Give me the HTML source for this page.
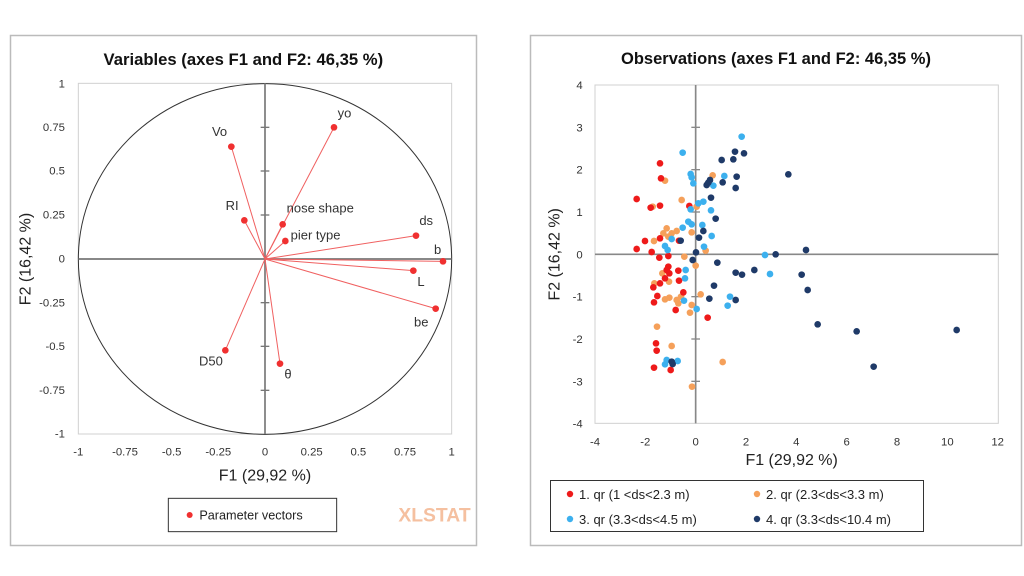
<!DOCTYPE html>
<html><head><meta charset="utf-8"><style>
body{margin:0;background:#fff;}
svg{display:block;font-family:"Liberation Sans",sans-serif;}
</style></head><body>
<svg width="1024" height="576" viewBox="0 0 1024 576" xmlns="http://www.w3.org/2000/svg">
<rect width="1024" height="576" fill="#fff"/>
<rect x="10.5" y="35.5" width="466" height="510" fill="#fff" stroke="#bbb" stroke-width="1.5"/>
<rect x="530.5" y="35.5" width="491" height="510" fill="#fff" stroke="#bbb" stroke-width="1.5"/>
<g transform="translate(0,30) scale(0.33333)">
  <rect x="235" y="160" width="1120" height="1052" fill="none" stroke="#d0d0d0" stroke-width="3"/>
  <ellipse cx="795" cy="687" rx="560" ry="526" fill="none" stroke="#333" stroke-width="3"/>
  <line x1="235" y1="687" x2="1355" y2="687" stroke="#777" stroke-width="5"/>
  <line x1="795" y1="160" x2="795" y2="1212" stroke="#777" stroke-width="5"/>
  <g stroke="#777" stroke-width="4">
    <line x1="782" y1="292" x2="808" y2="292"/><line x1="782" y1="423" x2="808" y2="423"/><line x1="782" y1="555" x2="808" y2="555"/>
    <line x1="782" y1="818" x2="808" y2="818"/><line x1="782" y1="949" x2="808" y2="949"/><line x1="782" y1="1081" x2="808" y2="1081"/>
  </g>
  <g stroke="#f06060" stroke-width="3">
    <line x1="795" y1="687" x2="694" y2="350"/><line x1="795" y1="687" x2="1002" y2="292"/>
    <line x1="795" y1="687" x2="733" y2="571"/><line x1="795" y1="687" x2="848" y2="583"/>
    <line x1="795" y1="687" x2="856" y2="633"/><line x1="795" y1="687" x2="1248" y2="617"/>
    <line x1="795" y1="687" x2="1329" y2="694"/><line x1="795" y1="687" x2="1240" y2="722"/>
    <line x1="795" y1="687" x2="1307" y2="836"/><line x1="795" y1="687" x2="676" y2="961"/>
    <line x1="795" y1="687" x2="840" y2="1001"/>
  </g>
  <g fill="#f03030">
    <circle cx="694" cy="350" r="10"/><circle cx="1002" cy="292" r="10"/><circle cx="733" cy="571" r="10"/>
    <circle cx="848" cy="583" r="10"/><circle cx="856" cy="633" r="10"/><circle cx="1248" cy="617" r="10"/>
    <circle cx="1329" cy="694" r="10"/><circle cx="1240" cy="722" r="10"/><circle cx="1307" cy="836" r="10"/>
    <circle cx="676" cy="961" r="10"/><circle cx="840" cy="1001" r="10"/>
  </g>
  <g font-size="39" fill="#333">
    <text x="636" y="318">Vo</text><text x="1013" y="262">yo</text><text x="677" y="540">RI</text>
    <text x="860" y="548">nose shape</text><text x="872" y="628">pier type</text><text x="1258" y="585">ds</text>
    <text x="1302" y="672">b</text><text x="1252" y="768">L</text><text x="1242" y="890">be</text>
    <text x="597" y="1007">D50</text><text x="853" y="1045">θ</text>
  </g>
  <g font-size="34" fill="#333" text-anchor="end">
    <text x="195" y="172">1</text><text x="195" y="303">0.75</text><text x="195" y="434">0.5</text>
    <text x="195" y="566">0.25</text><text x="195" y="697">0</text><text x="195" y="829">-0.25</text>
    <text x="195" y="960">-0.5</text><text x="195" y="1092">-0.75</text><text x="195" y="1223">-1</text>
  </g>
  <g font-size="34" fill="#333" text-anchor="middle">
    <text x="235" y="1277">-1</text><text x="375" y="1277">-0.75</text><text x="515" y="1277">-0.5</text>
    <text x="655" y="1277">-0.25</text><text x="795" y="1277">0</text><text x="935" y="1277">0.25</text>
    <text x="1075" y="1277">0.5</text><text x="1215" y="1277">0.75</text><text x="1355" y="1277">1</text>
  </g>
  <text x="795" y="1352" font-size="48" fill="#222" text-anchor="middle">F1 (29,92 %)</text>
  <text transform="translate(92,687) rotate(-90)" font-size="48" fill="#222" text-anchor="middle">F2 (16,42 %)</text>
  <text x="730" y="105" font-size="50" font-weight="bold" fill="#111" text-anchor="middle">Variables (axes F1 and F2: 46,35 %)</text>
  <rect x="505" y="1405" width="505" height="100" fill="#fff" stroke="#333" stroke-width="3"/>
  <circle cx="569" cy="1455" r="9" fill="#f03030"/>
  <text x="598" y="1468" font-size="38" fill="#222">Parameter vectors</text>
  <text x="1195" y="1475" font-size="58" font-weight="bold" fill="#f5c0a0">XLSTAT</text>
</g>
<text x="776" y="64" font-size="16.5" font-weight="bold" fill="#111" text-anchor="middle" font-family="Liberation Sans,sans-serif">Observations (axes F1 and F2: 46,35 %)</text>
<g transform="translate(530,70) scale(0.33333)">
  <rect x="195" y="45" width="1210" height="1015" fill="none" stroke="#d0d0d0" stroke-width="3"/>
  <line x1="195" y1="553" x2="1405" y2="553" stroke="#888" stroke-width="5"/>
  <line x1="497" y1="45" x2="497" y2="1060" stroke="#888" stroke-width="5"/>
  <g stroke="#888" stroke-width="4">
    <line x1="484" y1="172" x2="510" y2="172"/><line x1="484" y1="299" x2="510" y2="299"/><line x1="484" y1="426" x2="510" y2="426"/>
    <line x1="484" y1="680" x2="510" y2="680"/><line x1="484" y1="807" x2="510" y2="807"/><line x1="484" y1="934" x2="510" y2="934"/>
  </g>
  <g font-size="34" fill="#333" text-anchor="end">
    <text x="158" y="57">4</text><text x="158" y="184">3</text><text x="158" y="311">2</text><text x="158" y="438">1</text>
    <text x="158" y="565">0</text><text x="158" y="692">-1</text><text x="158" y="819">-2</text><text x="158" y="946">-3</text><text x="158" y="1073">-4</text>
  </g>
  <g font-size="34" fill="#333" text-anchor="middle">
    <text x="195" y="1126">-4</text><text x="346" y="1126">-2</text><text x="497" y="1126">0</text><text x="648" y="1126">2</text>
    <text x="799" y="1126">4</text><text x="950" y="1126">6</text><text x="1101" y="1126">8</text><text x="1252" y="1126">10</text><text x="1403" y="1126">12</text>
  </g>
  <text x="785" y="1185" font-size="48" fill="#222" text-anchor="middle">F1 (29,92 %)</text>
  <text transform="translate(88,553) rotate(-90)" font-size="48" fill="#222" text-anchor="middle">F2 (16,42 %)</text>
  <g fill="#f5a05a">
    <circle cx="405" cy="332" r="10"/><circle cx="368" cy="410" r="10"/><circle cx="455" cy="390" r="10"/><circle cx="548" cy="316" r="10"/>
    <circle cx="500" cy="410" r="10"/><circle cx="410" cy="475" r="10"/><circle cx="400" cy="490" r="10"/><circle cx="415" cy="500" r="10"/>
    <circle cx="440" cy="483" r="10"/><circle cx="372" cy="513" r="10"/><circle cx="425" cy="490" r="10"/><circle cx="485" cy="487" r="10"/>
    <circle cx="463" cy="560" r="10"/><circle cx="527" cy="542" r="10"/><circle cx="497" cy="587" r="10"/><circle cx="397" cy="610" r="10"/>
    <circle cx="417" cy="635" r="10"/><circle cx="373" cy="640" r="10"/><circle cx="405" cy="688" r="10"/><circle cx="418" cy="683" r="10"/>
    <circle cx="440" cy="690" r="10"/><circle cx="445" cy="700" r="10"/><circle cx="453" cy="680" r="10"/><circle cx="512" cy="673" r="10"/>
    <circle cx="485" cy="705" r="10"/><circle cx="480" cy="728" r="10"/><circle cx="381" cy="770" r="10"/><circle cx="425" cy="828" r="10"/>
    <circle cx="578" cy="876" r="10"/><circle cx="486" cy="950" r="10"/>
  </g>
  <g fill="#ee1a1a">
    <circle cx="390" cy="280" r="10"/><circle cx="393" cy="325" r="10"/><circle cx="320" cy="387" r="10"/><circle cx="362" cy="413" r="10"/>
    <circle cx="390" cy="407" r="10"/><circle cx="320" cy="537" r="10"/><circle cx="345" cy="513" r="10"/><circle cx="365" cy="546" r="10"/>
    <circle cx="390" cy="505" r="10"/><circle cx="388" cy="563" r="10"/><circle cx="415" cy="558" r="10"/><circle cx="415" cy="590" r="10"/>
    <circle cx="410" cy="600" r="10"/><circle cx="418" cy="610" r="10"/><circle cx="405" cy="625" r="10"/><circle cx="445" cy="602" r="10"/>
    <circle cx="447" cy="632" r="10"/><circle cx="460" cy="667" r="10"/><circle cx="390" cy="640" r="10"/><circle cx="370" cy="652" r="10"/>
    <circle cx="382" cy="678" r="10"/><circle cx="372" cy="697" r="10"/><circle cx="437" cy="720" r="10"/><circle cx="378" cy="820" r="10"/>
    <circle cx="380" cy="842" r="10"/><circle cx="372" cy="893" r="10"/><circle cx="422" cy="900" r="10"/><circle cx="533" cy="743" r="10"/>
    <circle cx="478" cy="408" r="10"/><circle cx="447" cy="512" r="10"/>
  </g>
  <g fill="#3cb0ee">
    <circle cx="635" cy="200" r="10"/><circle cx="458" cy="248" r="10"/><circle cx="482" cy="312" r="10"/><circle cx="485" cy="322" r="10"/>
    <circle cx="490" cy="340" r="10"/><circle cx="583" cy="318" r="10"/><circle cx="550" cy="347" r="10"/><circle cx="505" cy="400" r="10"/>
    <circle cx="520" cy="395" r="10"/><circle cx="482" cy="418" r="10"/><circle cx="543" cy="421" r="10"/><circle cx="475" cy="455" r="10"/>
    <circle cx="485" cy="463" r="10"/><circle cx="517" cy="465" r="10"/><circle cx="458" cy="473" r="10"/><circle cx="545" cy="498" r="10"/>
    <circle cx="425" cy="507" r="10"/><circle cx="405" cy="528" r="10"/><circle cx="413" cy="540" r="10"/><circle cx="522" cy="530" r="10"/>
    <circle cx="467" cy="600" r="10"/><circle cx="465" cy="625" r="10"/><circle cx="462" cy="692" r="10"/><circle cx="500" cy="717" r="10"/>
    <circle cx="600" cy="680" r="10"/><circle cx="593" cy="707" r="10"/><circle cx="705" cy="555" r="10"/><circle cx="720" cy="612" r="10"/>
    <circle cx="410" cy="870" r="10"/><circle cx="443" cy="873" r="10"/><circle cx="405" cy="883" r="10"/>
  </g>
  <g fill="#1f3a68">
    <circle cx="615" cy="245" r="10"/><circle cx="642" cy="250" r="10"/><circle cx="575" cy="270" r="10"/><circle cx="610" cy="268" r="10"/>
    <circle cx="775" cy="313" r="10"/><circle cx="620" cy="320" r="10"/><circle cx="578" cy="337" r="10"/><circle cx="617" cy="354" r="10"/>
    <circle cx="540" cy="330" r="10"/><circle cx="530" cy="345" r="10"/><circle cx="535" cy="338" r="10"/><circle cx="543" cy="383" r="10"/>
    <circle cx="557" cy="446" r="10"/><circle cx="520" cy="483" r="10"/><circle cx="507" cy="503" r="10"/><circle cx="498" cy="547" r="10"/>
    <circle cx="488" cy="570" r="10"/><circle cx="562" cy="578" r="10"/><circle cx="452" cy="512" r="10"/><circle cx="737" cy="553" r="10"/>
    <circle cx="828" cy="540" r="10"/><circle cx="673" cy="600" r="10"/><circle cx="617" cy="608" r="10"/><circle cx="636" cy="614" r="10"/>
    <circle cx="815" cy="614" r="10"/><circle cx="833" cy="660" r="10"/><circle cx="552" cy="647" r="10"/><circle cx="538" cy="686" r="10"/>
    <circle cx="617" cy="690" r="10"/><circle cx="863" cy="763" r="10"/><circle cx="980" cy="784" r="10"/><circle cx="1280" cy="780" r="10"/>
    <circle cx="1031" cy="890" r="10"/><circle cx="425" cy="875" r="10"/><circle cx="428" cy="882" r="10"/>
  </g>
</g>
<rect x="550.5" y="480.5" width="373" height="51" fill="#fff" stroke="#333" stroke-width="1"/>
<g font-size="13" fill="#222">
  <circle cx="570" cy="494" r="3.2" fill="#ee1a1a"/><text x="579" y="499">1. qr (1 &lt;ds&lt;2.3 m)</text>
  <circle cx="757" cy="494" r="3.2" fill="#f5a05a"/><text x="766" y="499">2. qr (2.3&lt;ds&lt;3.3 m)</text>
  <circle cx="570" cy="519" r="3.2" fill="#3cb0ee"/><text x="579" y="524">3. qr (3.3&lt;ds&lt;4.5 m)</text>
  <circle cx="757" cy="519" r="3.2" fill="#1f3a68"/><text x="766" y="524">4. qr (3.3&lt;ds&lt;10.4 m)</text>
</g>
</svg>
</body></html>
